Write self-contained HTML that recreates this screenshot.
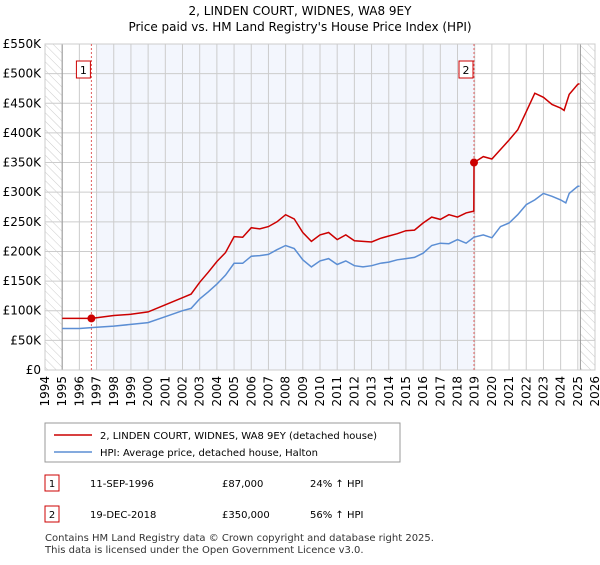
<!DOCTYPE html>
<html><head><meta charset="utf-8"><style>
body{margin:0;background:#fff;font-family:"Liberation Sans","DejaVu Sans",sans-serif;}
svg text{font-family:"DejaVu Sans","Liberation Sans",sans-serif;}
</style></head><body>
<svg id="c" width="600" height="560" xmlns="http://www.w3.org/2000/svg">
<defs><pattern id="hatch" width="6" height="6" patternUnits="userSpaceOnUse" patternTransform="rotate(-45)"><line x1="0" y1="0" x2="0" y2="6" stroke="#ccc" stroke-width="1"/></pattern></defs>
<text x="300" y="15" text-anchor="middle" font-size="12">2, LINDEN COURT, WIDNES, WA8 9EY</text>
<text x="300" y="31" text-anchor="middle" font-size="12">Price paid vs. HM Land Registry's House Price Index (HPI)</text>
<g id="plot"></g>
<g>
<rect x="45" y="423" width="355" height="39" fill="#fff" stroke="#999"/>
<line x1="54" y1="435" x2="92" y2="435" stroke="#cc0000" stroke-width="1.5"/>
<text x="100" y="439" font-size="10">2, LINDEN COURT, WIDNES, WA8 9EY (detached house)</text>
<line x1="54" y1="452" x2="92" y2="452" stroke="#5b8ed4" stroke-width="1.5"/>
<text x="100" y="456" font-size="10">HPI: Average price, detached house, Halton</text>
</g>
<g font-size="10">
<rect x="45" y="475" width="14" height="16" fill="#fff" stroke="#cc0000"/><text x="52" y="487" text-anchor="middle">1</text>
<text x="90" y="487">11-SEP-1996</text><text x="222" y="487">£87,000</text><text x="310" y="487">24% ↑ HPI</text>
<rect x="45" y="506" width="14" height="16" fill="#fff" stroke="#cc0000"/><text x="52" y="518" text-anchor="middle">2</text>
<text x="90" y="518">19-DEC-2018</text><text x="222" y="518">£350,000</text><text x="310" y="518">56% ↑ HPI</text>
</g>
<text x="45" y="541" font-size="10" fill="#333">Contains HM Land Registry data © Crown copyright and database right 2025.</text>
<text x="45" y="553" font-size="10" fill="#333">This data is licensed under the Open Government Licence v3.0.</text>
</svg>
<script>
const hpiYears=[1995,1996,1997,1998,1999,2000,2001,2002,2002.5,2003,2003.5,2004,2004.5,2005,2005.5,2006,2006.5,2007,2007.5,2008,2008.5,2009,2009.5,2010,2010.5,2011,2011.5,2012,2012.5,2013,2013.5,2014,2014.5,2015,2015.5,2016,2016.5,2017,2017.5,2018,2018.5,2018.96,2019.5,2020,2020.5,2021,2021.5,2022,2022.5,2023,2023.5,2024,2024.3,2024.5,2025,2025.1];
const hpiValues=[70,70,72,74,77,80,90,100,104,120,132,145,160,180,180,192,193,195,203,210,205,186,174,184,188,178,184,176,174,176,180,182,186,188,190,197,210,214,213,220,214,224,228,223,242,248,262,279,287,298,293,287,282,298,310,310];
const redYears=[1995,1996,1996.7,1997,1998,1999,2000,2001,2002,2002.5,2003,2003.5,2004,2004.5,2005,2005.5,2006,2006.5,2007,2007.5,2008,2008.5,2009,2009.5,2010,2010.5,2011,2011.5,2012,2012.5,2013,2013.5,2014,2014.5,2015,2015.5,2016,2016.5,2017,2017.5,2018,2018.5,2018.95,2018.96,2019.5,2020,2020.5,2021,2021.5,2022,2022.5,2023,2023.5,2024,2024.2,2024.5,2025,2025.1];
const redValues=[87,87,87,88,92,94,98,110,122,128,148,165,183,198,225,224,240,238,242,250,262,255,232,217,228,232,220,228,218,217,216,222,226,230,235,236,248,258,254,262,258,265,268,350,360,356,372,388,405,436,467,460,448,442,438,465,482,483];
const saleYears=[1996.7,2018.96];
const saleValues=[87,350];
const saleLabels=["1","2"];
const yTicks=[0,50,100,150,200,250,300,350,400,450,500,550];
const yTickLabels=["£0","£50K","£100K","£150K","£200K","£250K","£300K","£350K","£400K","£450K","£500K","£550K"];
const xTicks=[1994,1995,1996,1997,1998,1999,2000,2001,2002,2003,2004,2005,2006,2007,2008,2009,2010,2011,2012,2013,2014,2015,2016,2017,2018,2019,2020,2021,2022,2023,2024,2025,2026];

const L=45,R=595,T=44,B=370;
const X=y=>L+(y-1994)/32*(R-L);
const Y=v=>B-v/550*(B-T);
const g=document.getElementById('plot');
const NS='http://www.w3.org/2000/svg';
function mk(t,a,p){const e=document.createElementNS(NS,t);for(const k in a)e.setAttribute(k,a[k]);(p||g).appendChild(e);return e;}
let e;
e=mk('rect',{x:L,y:T,width:R-L,height:B-T,fill:'#fff'});


e=mk('rect',{x:X(1997),y:T,width:X(saleYears[1])-X(1997),height:B-T,fill:'#f3f6fd'});


e=mk('rect',{x:L,y:T,width:X(1995)-L,height:B-T,fill:'url(#hatch)'});


e=mk('rect',{x:X(2025.15),y:T,width:R-X(2025.15),height:B-T,fill:'url(#hatch)'});


yTicks.forEach((v,i)=>{
 e=mk('line',{x1:L,x2:R,y1:Y(v),y2:Y(v),stroke:'#ccc','stroke-width':1});
 
 
 e=mk('text',{x:L-4,y:Y(v)+4,'text-anchor':'end','font-size':12});
 e.textContent=yTickLabels[i];
 
 
});
xTicks.forEach(y=>{
 e=mk('line',{x1:X(y),x2:X(y),y1:T,y2:B,stroke:'#ccc','stroke-width':1});
 
 
 e=mk('text',{x:0,y:0,'font-size':12,'text-anchor':'end',transform:`translate(${X(y)+4},${B+6}) rotate(-90)`});
 e.textContent=y;
 
 
});
e=mk('line',{x1:X(1995),x2:X(1995),y1:T,y2:B,stroke:'#999'});


e=mk('line',{x1:X(2025.15),x2:X(2025.15),y1:T,y2:B,stroke:'#999'});


e=mk('rect',{x:L,y:T,width:R-L,height:B-T,fill:'none',stroke:'#ccc'});


saleYears.forEach((y,i)=>{
 e=mk('line',{x1:X(y),x2:X(y),y1:T,y2:B,stroke:'#e06060','stroke-dasharray':'2,2'});
 
 
});
const pts=(xs,vs)=>xs.map((x,i)=>X(x).toFixed(1)+','+Y(vs[i]).toFixed(1)).join(' ');
e=mk('polyline',{points:pts(hpiYears,hpiValues),fill:'none',stroke:'#5b8ed4','stroke-width':1.5});


e=mk('polyline',{points:pts(redYears,redValues),fill:'none',stroke:'#cc0000','stroke-width':1.5});


saleYears.forEach((y,i)=>{
 e=mk('circle',{cx:X(y),cy:Y(saleValues[i]),r:4,fill:'#cc0000'});
 
 
 e=mk('rect',{x:X(y)-15,y:61,width:14,height:17,fill:'#fff',stroke:'#cc0000'});
 
 
 e=mk('text',{x:X(y)-8,y:74,'text-anchor':'middle','font-size':11});
 e.textContent=saleLabels[i];
 
 
});
</script>
</body></html>
